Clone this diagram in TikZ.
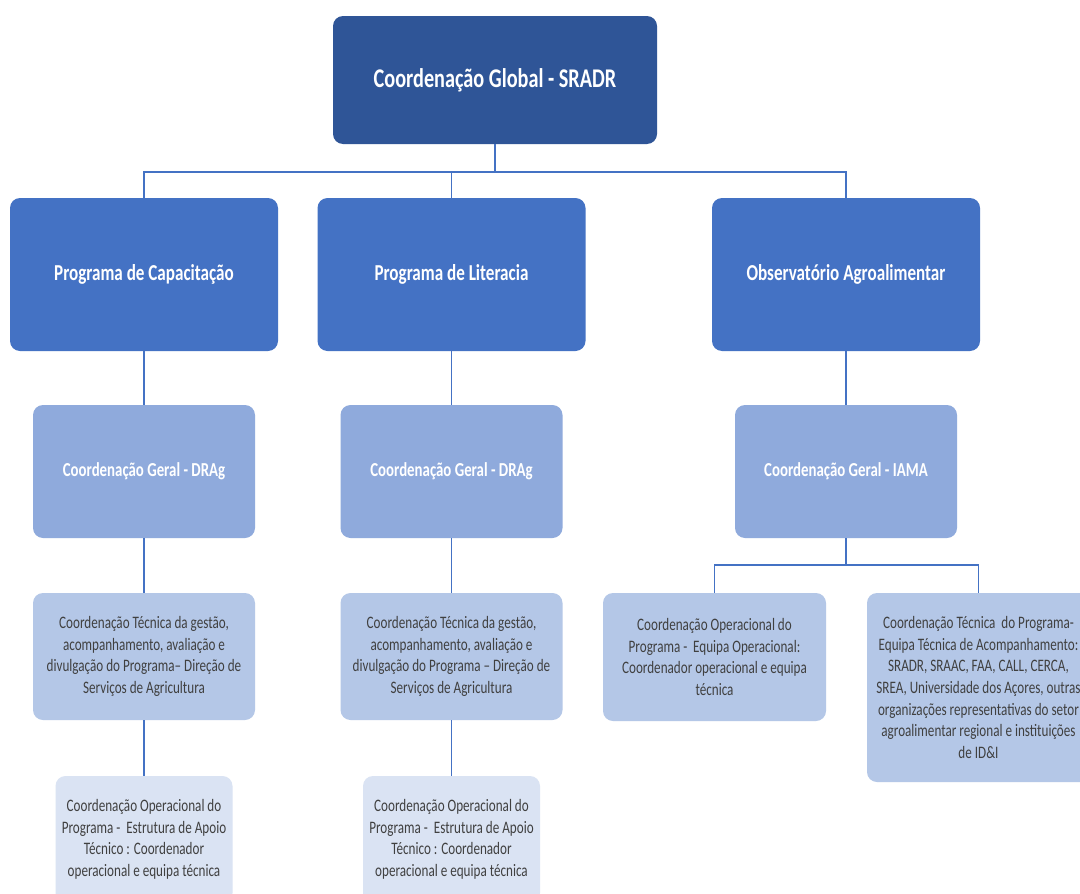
\documentclass[tikz,border=0pt]{standalone}
\usepackage{fontspec}
\setmainfont[FakeStretch=0.75]{Carlito}
\usetikzlibrary{calc}
\definecolor{cdark}{HTML}{2F5597}
\definecolor{cmid}{HTML}{4472C4}
\definecolor{clt1}{HTML}{8FAADC}
\definecolor{clt2}{HTML}{B4C7E7}
\definecolor{clt3}{HTML}{DAE3F3}
\definecolor{ctext}{HTML}{404040}
\tikzset{
  box/.style={rectangle, rounded corners=10pt, draw=none, align=center, inner sep=2pt},
  topbox/.style={box, fill=cdark, text=white, font=\fontsize{27}{33}\selectfont\bfseries, minimum width=324pt, minimum height=128pt},
  progbox/.style={box, fill=cmid, text=white, font=\fontsize{22.8}{28}\selectfont\bfseries, minimum width=268pt, minimum height=153pt},
  geralbox/.style={box, fill=clt1, text=white, font=\fontsize{19.8}{24}\selectfont\bfseries, minimum width=222pt, minimum height=133pt},
  tecbox/.style={box, fill=clt2, text=ctext, font=\fontsize{17.5}{21.6}\selectfont, minimum width=222pt, minimum height=127pt},
  opbox/.style={box, fill=clt3, text=ctext, font=\fontsize{17.5}{21.6}\selectfont, minimum width=177pt, minimum height=127pt},
  link/.style={draw=cmid, line width=1.5pt}
}
\begin{document}
\begin{tikzpicture}[x=1pt,y=-1pt]
\clip (0,0) rectangle (1080,894);
\fill[white] (0,0) rectangle (1080,894);
% level 1
\node[topbox] (top) at (495,80) {Coordenação Global - SRADR};
% level 2
\node[progbox] (cap) at (144,274.5) {Programa de Capacitação};
\node[progbox] (lit) at (451.5,274.5) {Programa de Literacia};
\node[progbox] (obs) at (846,274.5) {Observatório Agroalimentar};
% level 3
\node[geralbox] (cg1) at (144,471.5) {Coordenação Geral - DRAg};
\node[geralbox] (cg2) at (451.5,471.5) {Coordenação Geral - DRAg};
\node[geralbox] (cg3) at (846,471.5) {Coordenação Geral - IAMA};
% level 4
\node[tecbox] (ct1) at (144,656.5) {Coordenação Técnica da gestão,\\acompanhamento, avaliação e\\divulgação do Programa– Direção de\\Serviços de Agricultura};
\node[tecbox] (ct2) at (451.5,656.5) {Coordenação Técnica da gestão,\\acompanhamento, avaliação e\\divulgação do Programa – Direção de\\Serviços de Agricultura};
\node[tecbox, minimum width=223pt, minimum height=128pt] (op3) at (714.5,657) {Coordenação Operacional do\\Programa -\ \ Equipa Operacional:\\Coordenador operacional e equipa\\técnica};
\node[tecbox, minimum width=223pt, minimum height=189pt] (tc3) at (978.5,687.5) {Coordenação Técnica\ \ do Programa-\\Equipa Técnica de Acompanhamento:\\SRADR, SRAAC, FAA, CALL, CERCA,\\SREA, Universidade dos Açores, outras\\organizações representativas do setor\\agroalimentar regional e instituições\\de ID\&I};
% level 5
\node[opbox] (co1) at (144,839.5) {Coordenação Operacional do\\Programa -\ \ Estrutura de Apoio\\Técnico : Coordenador\\operacional e equipa técnica};
\node[opbox] (co2) at (451.5,839.5) {Coordenação Operacional do\\Programa -\ \ Estrutura de Apoio\\Técnico : Coordenador\\operacional e equipa técnica};
% connectors
\coordinate (bus1) at (495,172);
\coordinate (bus2) at (846,565);
\draw[link] (top.south) -- (bus1);
\draw[link] (cap.north) |- (bus1) -| (obs.north);
\draw[link] (lit.north) -- (lit.north |- bus1);
\draw[link] (cap.south) -- (cg1.north);
\draw[link] (lit.south) -- (cg2.north);
\draw[link] (obs.south) -- (cg3.north);
\draw[link] (cg1.south) -- (ct1.north);
\draw[link] (cg2.south) -- (ct2.north);
\draw[link] (cg3.south) -- (bus2);
\draw[link] (op3.north) |- (bus2) -| (tc3.north);
\draw[link] (ct1.south) -- (co1.north);
\draw[link] (ct2.south) -- (co2.north);
\end{tikzpicture}
\end{document}
